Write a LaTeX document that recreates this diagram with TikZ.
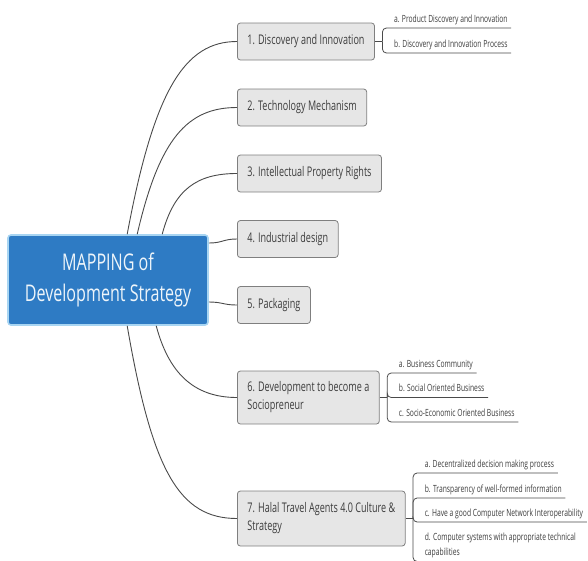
\documentclass[tikz,border=0pt]{standalone}
\usepackage{fontspec}
\newfontfamily\mapfont[FakeStretch=0.68]{Open Sans}
\newfontfamily\rootfont[FakeStretch=0.70]{Open Sans}
\usetikzlibrary{calc}
\definecolor{rootblue}{HTML}{2E7BC4}
\definecolor{rootedge}{HTML}{A8D5F2}
\definecolor{boxfill}{HTML}{E6E6E6}
\definecolor{boxedge}{HTML}{7F7F7F}
\definecolor{wire}{HTML}{4A4A4A}
\definecolor{ink}{HTML}{3C3C3C}
\tikzset{
  root/.style={rounded corners=3pt, fill=rootblue, draw=rootedge, line width=1.6pt,
    minimum width=200pt, minimum height=90pt, align=center, text=white!92!rootblue,
    font=\rootfont\fontsize{23}{31}\selectfont},
  branch/.style={rounded corners=3pt, fill=boxfill, draw=boxedge, line width=0.8pt,
    minimum height=37pt, inner xsep=10pt, align=left, anchor=west, text=ink,
    font=\mapfont\fontsize{13.3}{18}\selectfont},
  leaf/.style={anchor=south west, inner xsep=3.5pt, inner ysep=3pt, text depth=2.5pt,
    align=left, text=ink, font=\mapfont\fontsize{9.9}{15.5}\selectfont},
  wire/.style={draw=wire, line width=0.9pt},
  twig/.style={draw=wire, line width=0.8pt, rounded corners=4pt},
}

\begin{document}
\begin{tikzpicture}[x=1pt, y=-1pt]
\useasboundingbox (0,0) rectangle (588,560);

%% ---- central topic -----------------------------------------------------
\node[root] (root) at (108,280) {MAPPING of\\Development Strategy};

%% ---- main branches -----------------------------------------------------
\foreach \n/\y/\txt in
    {1/41.5/{1. Discovery and Innovation}, 2/107.5/{2. Technology Mechanism},
     3/173.5/{3. Intellectual Property Rights}, 4/239/{4. Industrial design},
     5/305/{5. Packaging}}
  \node[branch] (b\n) at (237,\y) {\txt};
\node[branch, minimum height=53pt] (b6) at (237,397.5)
  {6. Development to become a\\Sociopreneur};
\node[branch, minimum height=55pt] (b7) at (237,518.5)
  {7. Halal Travel Agents 4.0 Culture \&\\Strategy};

% where the curves leave the central topic
\coordinate (s1) at ($(root.north west)+(120,0)$);
\coordinate (s2) at ($(root.north west)+(130,0)$);
\coordinate (s3) at ($(root.north west)+(155,0)$);
\coordinate (s4) at ($(root.east)+(0,-37)$);
\coordinate (s5) at ($(root.east)+(0,22)$);
\coordinate (s6) at ($(root.south west)+(149,0)$);
\coordinate (s7) at ($(root.south west)+(120,0)$);

\foreach \n/\dx/\dy/\dl in
    {1/27/-145/-52, 2/22/-95/-50, 3/12/-45/-40, 4/14/0/-14,
     5/14/0/-14, 6/12/45/-45, 7/25/145/-58}
  \draw[wire] (s\n) .. controls +(\dx,\dy) and +(\dl,0) .. (b\n.west);

%% ---- sub-topics --------------------------------------------------------
\foreach \n in {1,6,7} {
  \coordinate (j\n) at ($(b\n.east)+(7.5,0)$);
  \draw[wire] (b\n.east) -- (j\n);
}

\foreach \k/\ly/\txt in
    {a/28/{a. Product Discovery and Innovation},
     b/53/{b. Discovery and Innovation Process}} {
  \node[leaf] (l1\k) at ($(j1 |- 0,\ly)+(8,0)$) {\txt};
  \draw[twig] (j1) |- (l1\k.south east);
}

\foreach \k/\ly/\txt in
    {a/373/{a. Business Community}, b/397.5/{b. Social Oriented Business},
     c/422/{c. Socio-Economic Oriented Business}} {
  \node[leaf] (l6\k) at ($(j6 |- 0,\ly)+(8,0)$) {\txt};
  \draw[twig] (j6) |- (l6\k.south east);
}

% the last sub-topic runs past the lower edge, as in the source
\foreach \k/\ly/\txt in
    {a/473/{a. Decentralized decision making process},
     b/498/{b. Transparency of well-formed information},
     c/522/{c. Have a good Computer Network Interoperability},
     d/561.5/{d. Computer systems with appropriate technical\\capabilities}} {
  \node[leaf] (l7\k) at ($(j7 |- 0,\ly)+(8,0)$) {\txt};
  \draw[twig] (j7) |- (l7\k.south east);
}

\end{tikzpicture}
\end{document}
